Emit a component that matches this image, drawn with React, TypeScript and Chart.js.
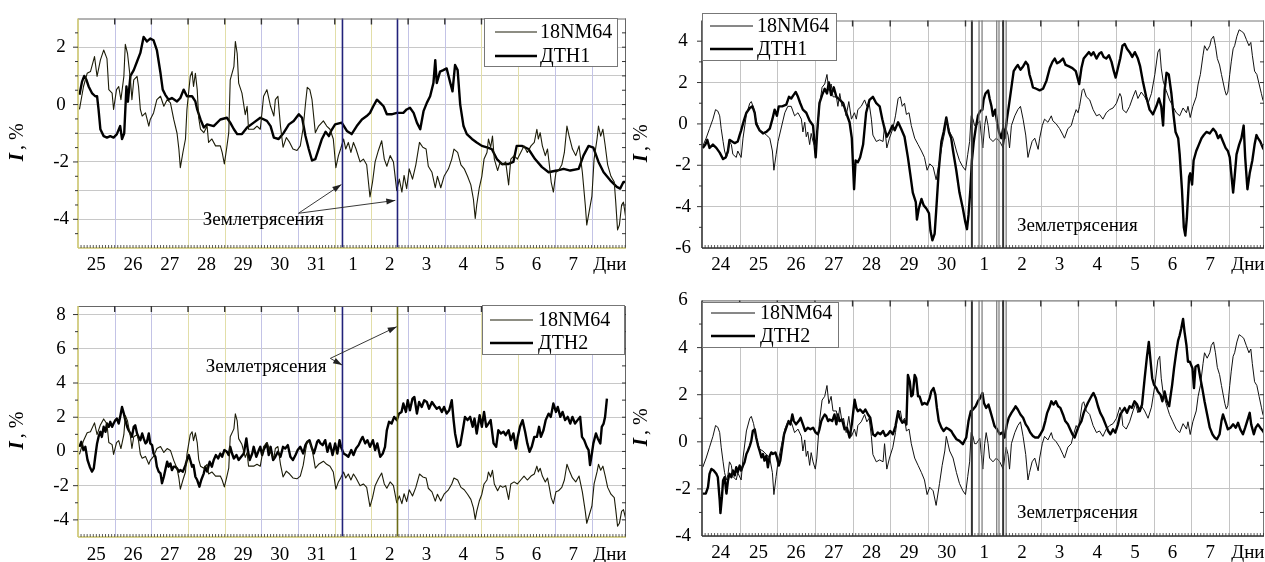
import React, { useEffect, useRef } from 'react';
import { Chart, registerables } from 'chart.js';

Chart.register(...registerables);

type Pt = [number, number];

// day labels under the x axis (x = days since the first midnight)
const octDays = ['25', '26', '27', '28', '29', '30', '31', '1', '2', '3', '4', '5', '6', '7', 'Дни'];
const sepDays = ['24', '25', '26', '27', '28', '29', '30', '1', '2', '3', '4', '5', '6', '7', 'Дни'];

// October, 18NM64 (same curve in both left panels)
const octNm64: Pt[] = [
  [0.04, -0.17], [0.15, 0.63], [0.25, 1.09], [0.34, 1.15], [0.45, 1.67], [0.52, 0.98], [0.61, 1.55], [0.7, 1.9],
  [0.79, 1.6], [0.84, 0.52], [0.93, 0.4], [0.97, -0.17], [1.05, 0.52], [1.11, 0.63], [1.17, 0.17], [1.25, 0.98],
  [1.29, 2.1], [1.35, 1.78], [1.43, 0.86], [1.47, 0.17], [1.52, 0.86], [1.61, 0.98], [1.65, 0.63], [1.7, -0.17],
  [1.75, -0.4], [1.84, -0.29], [1.93, -0.75], [1.97, -0.52], [2.06, -0.29], [2.15, 0.17], [2.25, 0.29], [2.34, -0.06],
  [2.43, 0.17], [2.52, 0.06], [2.61, -0.52], [2.7, -1.0], [2.75, -1.55], [2.79, -2.2], [2.86, -1.67], [2.93, -1.2],
  [2.97, -0.17], [3.06, 0.98], [3.11, 1.15], [3.15, 0.63], [3.2, 1.09], [3.25, 0.52], [3.29, -0.46], [3.34, -0.86],
  [3.43, -0.98], [3.52, -0.75], [3.56, -1.32], [3.65, -1.2], [3.75, -1.44], [3.88, -1.44], [3.93, -1.67], [3.99, -2.07],
  [4.05, -1.55], [4.11, -0.98], [4.15, 0.86], [4.25, 1.32], [4.29, 2.2], [4.34, 1.78], [4.38, 0.75], [4.47, 0.4],
  [4.56, -0.35], [4.61, -0.06], [4.65, -0.86], [4.79, -0.86], [4.88, -0.75], [4.97, -0.86], [5.06, 0.29], [5.15, 0.52],
  [5.25, -0.06], [5.34, -0.4], [5.38, 0.17], [5.45, 0.29], [5.52, -0.75], [5.59, -1.49], [5.68, -1.15], [5.77, -1.32],
  [5.86, -1.55], [5.97, -1.6], [6.06, -1.44], [6.14, -0.8], [6.2, 0.0], [6.25, 0.6], [6.32, 0.52], [6.38, 0.17],
  [6.47, -0.98], [6.56, -0.75], [6.69, -0.57], [6.78, -0.75], [6.87, -0.86], [6.96, -1.2], [7.03, -2.2], [7.1, -1.78],
  [7.16, -1.55], [7.24, -1.2], [7.3, -1.55], [7.37, -1.32], [7.44, -1.67], [7.51, -1.32], [7.58, -1.55], [7.69, -2.0],
  [7.78, -1.9], [7.87, -2.1], [7.96, -3.22], [8.03, -2.7], [8.1, -2.0], [8.19, -1.6], [8.28, -1.26], [8.35, -1.9],
  [8.42, -2.15], [8.51, -1.78], [8.6, -2.0], [8.69, -3.0], [8.76, -2.6], [8.83, -3.05], [8.89, -2.47], [8.96, -2.93],
  [9.03, -2.24], [9.12, -2.6], [9.21, -2.1], [9.31, -1.32], [9.4, -1.49], [9.49, -1.55], [9.55, -2.15], [9.65, -2.36],
  [9.74, -2.9], [9.8, -2.5], [9.89, -2.9], [9.98, -2.5], [10.1, -2.24], [10.19, -1.9], [10.25, -1.55], [10.35, -1.67],
  [10.44, -2.1], [10.53, -2.24], [10.62, -2.5], [10.71, -2.8], [10.78, -3.3], [10.83, -3.97], [10.87, -3.5], [10.94, -2.9],
  [11.01, -2.5], [11.07, -1.9], [11.15, -1.67], [11.19, -1.2], [11.25, -1.49], [11.3, -1.1], [11.35, -1.9], [11.44, -2.3],
  [11.51, -2.0], [11.58, -2.1], [11.66, -2.0], [11.74, -2.8], [11.8, -1.9], [11.89, -1.78], [11.98, -1.9], [12.07, -1.67],
  [12.16, -1.44], [12.25, -1.67], [12.35, -1.44], [12.44, -1.32], [12.51, -0.86], [12.55, -1.2], [12.6, -0.98], [12.66, -1.44],
  [12.74, -1.78], [12.8, -1.55], [12.85, -2.1], [12.9, -2.7], [12.96, -3.05], [13.03, -2.36], [13.1, -2.3], [13.19, -2.1],
  [13.26, -1.67], [13.33, -0.75], [13.39, -1.1], [13.48, -1.55], [13.57, -1.78], [13.66, -1.44], [13.75, -2.36], [13.83, -3.5],
  [13.87, -4.2], [13.94, -3.7], [14.01, -3.2], [14.07, -1.9], [14.15, -1.2], [14.19, -0.75], [14.25, -1.1], [14.31, -0.86],
  [14.37, -1.4], [14.44, -2.1], [14.53, -2.5], [14.62, -2.7], [14.66, -3.4], [14.71, -4.37], [14.76, -4.2], [14.82, -3.5],
  [14.87, -3.4], [14.94, -4.0],
];

// October, ДТН1
const octDtn1: Pt[] = [
  [0.04, 0.34], [0.11, 0.8], [0.17, 1.0], [0.23, 0.86], [0.29, 0.63], [0.38, 0.4], [0.47, 0.29], [0.52, 0.29],
  [0.56, -0.17], [0.61, -0.86], [0.7, -1.1], [0.79, -1.15], [0.88, -1.1], [0.97, -1.15], [1.06, -1.03], [1.15, -0.75],
  [1.2, -1.2], [1.26, -1.0], [1.32, 0.63], [1.36, 0.1], [1.43, 1.0], [1.52, 1.2], [1.61, 1.5], [1.7, 1.8],
  [1.79, 2.36], [1.88, 2.2], [1.97, 2.3], [2.06, 2.24], [2.15, 1.9], [2.25, 1.09], [2.31, 0.52], [2.38, 0.34],
  [2.47, 0.17], [2.56, 0.23], [2.7, 0.11], [2.79, 0.23], [2.88, 0.52], [2.97, 0.29], [3.11, 0.29], [3.2, 0.11],
  [3.25, -0.17], [3.34, -0.52], [3.43, -0.8], [3.52, -0.69], [3.7, -0.75], [3.88, -0.52], [4.06, -0.46], [4.15, -0.63],
  [4.25, -0.86], [4.34, -1.03], [4.47, -1.03], [4.61, -0.8], [4.79, -0.63], [4.97, -0.46], [5.15, -0.57], [5.25, -0.75],
  [5.34, -1.15], [5.47, -1.2], [5.61, -0.98], [5.75, -0.69], [5.88, -0.57], [6.02, -0.34], [6.11, -0.46], [6.2, -1.09],
  [6.29, -1.55], [6.38, -1.95], [6.47, -1.9], [6.56, -1.55], [6.65, -1.2], [6.75, -0.95], [6.84, -1.1], [6.9, -0.92],
  [7.01, -0.69], [7.19, -0.63], [7.33, -0.92], [7.46, -1.03], [7.6, -0.75], [7.74, -0.52], [7.87, -0.4], [7.96, -0.29],
  [8.05, -0.06], [8.15, 0.17], [8.24, 0.06], [8.33, -0.06], [8.42, -0.34], [8.55, -0.34], [8.69, -0.29], [8.87, -0.29],
  [8.96, -0.17], [9.05, -0.11], [9.15, -0.29], [9.24, -0.63], [9.33, -0.86], [9.42, -0.23], [9.51, 0.06], [9.6, 0.29],
  [9.69, 0.75], [9.74, 1.55], [9.78, 0.75], [9.87, 1.15], [9.96, 1.2], [10.05, 1.26], [10.15, 0.75], [10.21, 0.46],
  [10.28, 1.38], [10.35, 1.2], [10.42, 0.0], [10.51, -0.75], [10.6, -1.03], [10.74, -1.2], [10.87, -1.32], [11.01, -1.44],
  [11.15, -1.49], [11.28, -1.55], [11.42, -1.9], [11.55, -2.07], [11.74, -2.07], [11.87, -2.0], [11.96, -1.44], [12.1, -1.44],
  [12.28, -1.55], [12.46, -1.9], [12.65, -2.18], [12.83, -2.36], [13.05, -2.3], [13.24, -2.24], [13.42, -2.3], [13.65, -2.24],
  [13.78, -1.78], [13.92, -1.44], [14.05, -1.5], [14.19, -2.0], [14.33, -2.36], [14.51, -2.64], [14.69, -2.87], [14.78, -2.93],
  [14.87, -2.7], [14.94, -2.7],
];

// October, ДТН2
const octDtn2: Pt[] = [
  [0.04, 0.27], [0.09, 0.56], [0.15, 0.08], [0.2, 0.27], [0.26, -0.5], [0.32, -0.89], [0.38, -1.18], [0.43, -0.99],
  [0.47, -0.31], [0.52, 0.47], [0.56, 0.85], [0.61, 1.15], [0.65, 0.85], [0.7, 1.44], [0.75, 1.15], [0.79, 1.63],
  [0.84, 1.44], [0.88, 1.73], [0.93, 1.44], [0.97, 1.63], [1.02, 1.83], [1.06, 1.92], [1.11, 1.63], [1.15, 2.02],
  [1.2, 2.6], [1.25, 2.21], [1.29, 1.83], [1.34, 1.44], [1.38, 1.24], [1.43, 1.05], [1.47, 0.85], [1.52, 1.44],
  [1.56, 1.53], [1.61, 1.05], [1.65, 0.85], [1.7, 0.66], [1.75, 1.05], [1.79, 0.76], [1.84, 0.47], [1.88, 0.56],
  [1.93, 1.05], [1.97, 0.47], [2.02, 0.37], [2.06, -0.12], [2.11, -0.31], [2.15, -0.89], [2.2, -1.18], [2.25, -1.28],
  [2.29, -1.86], [2.34, -1.48], [2.38, -1.09], [2.43, -0.6], [2.47, -0.89], [2.52, -0.7], [2.56, -1.09], [2.61, -0.89],
  [2.65, -0.89], [2.7, -0.99], [2.75, -1.18], [2.79, -1.09], [2.86, -1.18], [2.93, -0.8], [2.97, -0.5], [3.02, -0.21],
  [3.06, -0.5], [3.11, -0.89], [3.15, -0.8], [3.2, -1.48], [3.25, -1.67], [3.31, -2.06], [3.36, -1.67], [3.43, -1.28],
  [3.47, -0.89], [3.52, -1.18], [3.59, -0.6], [3.65, -0.89], [3.7, -0.5], [3.76, -0.21], [3.82, -0.41], [3.88, -0.12],
  [3.93, -0.31], [3.99, 0.08], [4.06, -0.02], [4.11, -0.21], [4.15, 0.27], [4.2, -0.12], [4.25, -0.41], [4.32, -0.21],
  [4.38, -0.5], [4.45, -0.31], [4.52, -0.12], [4.59, 0.76], [4.63, 0.08], [4.68, -0.5], [4.75, -0.12], [4.79, 0.27],
  [4.86, -0.31], [4.93, 0.08], [4.97, 0.27], [5.02, -0.21], [5.06, 0.08], [5.15, 0.47], [5.2, -0.21], [5.25, 0.27],
  [5.32, -0.5], [5.38, -0.31], [5.45, -0.02], [5.52, -0.31], [5.59, 0.27], [5.65, 0.17], [5.72, 0.37], [5.79, -0.31],
  [5.86, -0.5], [5.93, -0.21], [5.99, 0.08], [6.06, 0.27], [6.14, -0.12], [6.2, 0.37], [6.25, 0.56], [6.31, 0.66],
  [6.38, 0.17], [6.43, -0.12], [6.47, 0.17], [6.52, 0.56], [6.56, 0.66], [6.61, 0.47], [6.67, 0.37], [6.74, 0.66],
  [6.8, -0.02], [6.87, 0.47], [6.94, -0.21], [7.01, 0.47], [7.07, -0.12], [7.13, 0.66], [7.17, 0.27], [7.24, -0.12],
  [7.31, -0.21], [7.37, -0.31], [7.45, 0.08], [7.51, -0.21], [7.58, 0.17], [7.65, 0.37], [7.71, 0.66], [7.76, 0.85],
  [7.83, 0.47], [7.89, 0.66], [7.96, 0.27], [8.04, 0.66], [8.1, 0.08], [8.16, 0.47], [8.24, -0.31], [8.31, -0.12],
  [8.37, 0.27], [8.42, 1.24], [8.48, 1.73], [8.55, 1.63], [8.62, 2.02], [8.69, 1.83], [8.75, 2.21], [8.82, 2.31],
  [8.87, 2.8], [8.94, 2.31], [8.99, 2.99], [9.05, 2.41], [9.12, 3.09], [9.17, 3.18], [9.24, 2.21], [9.3, 2.89],
  [9.37, 2.6], [9.44, 2.99], [9.51, 2.89], [9.57, 2.5], [9.65, 2.89], [9.71, 2.7], [9.78, 2.5], [9.85, 2.6],
  [9.92, 2.31], [9.98, 2.6], [10.05, 2.21], [10.12, 2.41], [10.19, 2.99], [10.24, 1.83], [10.28, 1.05], [10.35, 0.27],
  [10.42, 0.37], [10.49, 1.24], [10.55, 2.02], [10.62, 1.83], [10.69, 2.02], [10.76, 1.44], [10.81, 1.92], [10.87, 1.05],
  [10.95, 2.12], [11.01, 1.44], [11.07, 2.31], [11.13, 1.44], [11.19, 1.63], [11.25, 1.83], [11.33, 0.47], [11.4, 0.27],
  [11.46, 1.24], [11.53, 1.05], [11.6, 1.15], [11.66, 0.95], [11.74, 1.24], [11.8, 0.66], [11.87, 1.05], [11.94, 0.17],
  [11.99, 0.85], [12.05, 1.44], [12.12, 1.83], [12.19, 1.15], [12.25, 0.47], [12.31, -0.02], [12.37, 0.27], [12.44, 0.85],
  [12.51, 0.85], [12.57, 1.44], [12.62, 0.85], [12.69, 1.24], [12.75, 1.83], [12.83, 2.21], [12.89, 2.02], [12.96, 2.8],
  [13.03, 2.31], [13.08, 2.6], [13.15, 2.02], [13.21, 2.31], [13.28, 1.83], [13.35, 2.02], [13.42, 1.63], [13.48, 2.02],
  [13.55, 1.63], [13.62, 1.83], [13.69, 2.02], [13.74, 0.85], [13.8, 0.66], [13.87, 0.27], [13.92, 0.08], [13.96, -0.8],
  [14.01, -0.12], [14.05, 0.47], [14.12, 1.05], [14.17, 0.76], [14.24, 0.47], [14.28, 1.44], [14.33, 1.63], [14.37, 2.02],
  [14.42, 3.09],
];

// September, 18NM64 (same curve in both right panels)
const sepNm64: Pt[] = [
  [0.02, -1.08], [0.11, -0.69], [0.2, -0.23], [0.29, 0.23], [0.36, 0.69], [0.42, 0.62], [0.47, 0.39], [0.51, -0.23],
  [0.56, -0.85], [0.6, -1.31], [0.65, -1.62], [0.69, -1.39], [0.73, -0.85], [0.78, -1.0], [0.82, -1.47], [0.91, -1.62],
  [0.95, -1.31], [1.04, -1.62], [1.09, -0.69], [1.18, 0.46], [1.27, 1.0], [1.31, 1.08], [1.37, 0.77], [1.44, 0.15],
  [1.53, -0.31], [1.62, -0.39], [1.71, -0.54], [1.8, -0.69], [1.87, -1.31], [1.91, -2.24], [1.97, -1.47], [2.02, -0.85],
  [2.11, -0.15], [2.2, 0.54], [2.28, 0.85], [2.37, 0.85], [2.46, 0.39], [2.55, 0.54], [2.64, 0.23], [2.68, -0.39],
  [2.73, 0.08], [2.77, -0.62], [2.81, -0.39], [2.86, -1.0], [2.9, -0.46], [2.95, -0.85], [3.01, -1.16], [3.05, -0.69],
  [3.12, 0.85], [3.19, 1.77], [3.26, 1.93], [3.32, 2.39], [3.37, 1.62], [3.43, 1.93], [3.48, 1.31], [3.57, 1.31],
  [3.61, 0.85], [3.66, 1.47], [3.72, 0.85], [3.76, 1.0], [3.83, 0.39], [3.9, 1.08], [3.97, 0.23], [4.05, 0.54],
  [4.1, 0.23], [4.14, 0.69], [4.23, 0.85], [4.32, 1.16], [4.38, 0.85], [4.44, 1.0], [4.5, 0.23], [4.54, -0.54],
  [4.63, -0.85], [4.72, -0.77], [4.81, -0.85], [4.85, -0.08], [4.91, -1.16], [4.98, -0.69], [5.07, -0.23], [5.14, 0.39],
  [5.21, 1.23], [5.27, 1.31], [5.32, 0.85], [5.38, 1.0], [5.43, 0.46], [5.5, 0.54], [5.56, -0.08], [5.65, -0.69],
  [5.74, -1.0], [5.83, -1.31], [5.91, -1.62], [5.98, -2.24], [6.05, -1.93], [6.14, -2.08], [6.22, -2.7], [6.31, -1.77],
  [6.38, -1.0], [6.45, -0.39], [6.49, 0.23], [6.58, -0.39], [6.67, -0.69], [6.76, -1.31], [6.84, -1.77], [6.93, -2.08],
  [7.0, -2.24], [7.06, -1.47], [7.11, -0.85], [7.15, 0.39], [7.2, 0.23], [7.24, -0.08], [7.29, -0.08], [7.38, 0.15],
  [7.42, -0.54], [7.46, -1.16], [7.51, -0.08], [7.55, 0.39], [7.6, -0.08], [7.64, -0.69], [7.73, -0.85], [7.82, -0.69],
  [7.91, -0.85], [8.0, -1.16], [8.04, -0.69], [8.08, -0.23], [8.13, -0.54], [8.17, -1.16], [8.22, -0.08], [8.31, 0.39],
  [8.39, 0.69], [8.46, 0.85], [8.53, 0.23], [8.6, -0.54], [8.66, -1.62], [8.7, -1.31], [8.77, -0.85], [8.84, -0.69],
  [8.93, -1.23], [8.97, -0.69], [9.04, -0.08], [9.1, 0.23], [9.19, 0.08], [9.28, 0.39], [9.32, 0.15], [9.41, 0.0],
  [9.5, -0.23], [9.59, -0.54], [9.63, -0.69], [9.72, -0.23], [9.81, -0.08], [9.87, 0.31], [9.94, 0.69], [9.99, 0.54],
  [10.03, 0.85], [10.1, 1.62], [10.14, 1.7], [10.21, 1.31], [10.3, 1.16], [10.39, 0.69], [10.48, 0.39], [10.56, 0.46],
  [10.65, 0.23], [10.74, 0.54], [10.83, 0.69], [10.92, 0.77], [11.01, 1.0], [11.1, 1.47], [11.14, 1.31], [11.18, 0.69],
  [11.27, 0.54], [11.36, 0.85], [11.45, 1.31], [11.52, 1.62], [11.58, 1.23], [11.67, 1.54], [11.76, 1.31], [11.85, 1.0],
  [11.94, 1.47], [12.03, 2.39], [12.11, 3.47], [12.16, 3.63], [12.2, 2.7], [12.25, 2.08], [12.33, 1.62], [12.42, 1.16],
  [12.51, 0.85], [12.6, 0.54], [12.69, 0.39], [12.78, 0.77], [12.87, 0.54], [12.91, 0.85], [12.97, 0.31], [13.04, 0.85],
  [13.13, 1.31], [13.18, 1.93], [13.24, 2.39], [13.31, 3.32], [13.35, 3.78], [13.42, 3.55], [13.49, 3.78], [13.53, 4.09],
  [13.59, 4.24], [13.64, 3.78], [13.69, 3.16], [13.75, 2.85], [13.8, 2.39], [13.89, 1.62], [13.93, 1.39], [13.97, 1.54],
  [14.02, 2.39], [14.06, 3.0], [14.11, 3.63], [14.15, 3.78], [14.21, 4.24], [14.27, 4.55], [14.33, 4.48], [14.39, 4.4],
  [14.46, 4.09], [14.53, 3.78], [14.58, 3.94], [14.62, 3.32], [14.68, 2.55], [14.74, 2.39], [14.8, 1.93], [14.86, 1.47],
  [14.9, 1.16], [14.95, 1.0],
];

// September, ДТН1
const sepDtn1: Pt[] = [
  [0.02, -1.16], [0.09, -1.0], [0.14, -0.77], [0.2, -1.16], [0.29, -1.0], [0.38, -1.16], [0.47, -1.39], [0.56, -1.7],
  [0.63, -1.62], [0.69, -1.31], [0.73, -0.77], [0.8, -0.85], [0.87, -0.93], [0.95, -0.85], [1.0, -0.54], [1.04, -0.31],
  [1.11, 0.15], [1.18, 0.54], [1.27, 0.77], [1.34, 0.85], [1.4, 0.54], [1.44, 0.0], [1.53, -0.31], [1.62, -0.46],
  [1.71, -0.39], [1.8, -0.23], [1.87, 0.23], [1.93, 0.69], [1.99, 0.39], [2.04, 0.85], [2.13, 0.85], [2.24, 0.93],
  [2.31, 1.31], [2.37, 1.23], [2.43, 1.39], [2.49, 1.54], [2.55, 1.31], [2.61, 1.0], [2.68, 0.69], [2.77, 0.54],
  [2.86, 0.15], [2.95, -0.08], [3.02, -1.62], [3.06, -0.39], [3.12, 1.0], [3.19, 1.39], [3.26, 1.7], [3.32, 1.47],
  [3.37, 2.0], [3.43, 1.39], [3.5, 1.77], [3.57, 1.31], [3.66, 1.16], [3.75, 1.0], [3.83, 0.54], [3.92, 0.08],
  [3.98, -0.69], [4.04, -3.16], [4.08, -1.77], [4.14, -1.85], [4.2, -1.62], [4.28, -1.0], [4.36, 0.54], [4.45, 1.16],
  [4.54, 1.31], [4.63, 1.0], [4.72, 0.85], [4.79, 0.23], [4.85, -0.23], [4.91, -0.62], [4.98, -0.39], [5.06, -0.08],
  [5.12, -0.31], [5.21, 0.08], [5.29, -0.23], [5.38, -0.62], [5.47, -1.62], [5.53, -2.39], [5.6, -3.32], [5.68, -3.78],
  [5.71, -4.63], [5.76, -4.09], [5.83, -3.63], [5.89, -3.94], [5.96, -4.09], [6.03, -4.32], [6.07, -5.17], [6.12, -5.63],
  [6.18, -5.32], [6.22, -4.24], [6.29, -2.24], [6.36, -0.85], [6.42, -0.39], [6.49, 0.31], [6.56, -0.39], [6.62, -0.69],
  [6.67, -1.31], [6.755, -2.24], [6.84, -3.32], [6.93, -4.09], [6.99, -4.7], [7.04, -5.09], [7.08, -4.4], [7.13, -3.16],
  [7.17, -1.77], [7.22, -0.85], [7.27, -0.23], [7.33, 0.39], [7.39, 0.62], [7.45, 0.69], [7.48, 1.16], [7.53, 1.47],
  [7.6, 1.62], [7.64, 1.23], [7.69, 0.85], [7.73, 0.39], [7.79, 0.69], [7.84, 0.08], [7.89, -0.39], [7.95, -0.69],
  [8.0, -0.23], [8.04, -0.69], [8.1, 0.23], [8.15, 0.85], [8.22, 1.77], [8.28, 2.55], [8.33, 2.7], [8.39, 2.85],
  [8.46, 2.62], [8.53, 2.78], [8.6, 3.0], [8.66, 2.85], [8.7, 2.39], [8.75, 2.08], [8.79, 1.77], [8.88, 1.7],
  [8.97, 1.62], [9.06, 1.7], [9.15, 2.08], [9.24, 2.7], [9.31, 3.0], [9.37, 3.16], [9.43, 2.93], [9.5, 3.0],
  [9.59, 3.16], [9.66, 2.85], [9.75, 2.78], [9.84, 2.7], [9.93, 2.55], [10.02, 1.93], [10.08, 2.7], [10.14, 3.16],
  [10.21, 3.32], [10.28, 3.47], [10.34, 3.32], [10.4, 3.47], [10.48, 3.16], [10.55, 3.39], [10.61, 3.47], [10.67, 3.24],
  [10.74, 3.16], [10.81, 3.32], [10.88, 3.0], [10.94, 2.55], [10.99, 2.24], [11.05, 2.7], [11.11, 3.16], [11.17, 3.78],
  [11.23, 3.86], [11.29, 3.63], [11.36, 3.47], [11.43, 3.24], [11.5, 3.47], [11.58, 3.16], [11.64, 2.78], [11.71, 2.08],
  [11.8, 1.31], [11.89, 0.69], [11.98, 0.46], [12.07, 0.85], [12.14, 1.23], [12.2, 0.85], [12.25, -0.08], [12.29, 1.62],
  [12.34, 2.47], [12.4, 2.39], [12.47, 1.47], [12.53, 0.39], [12.58, -0.39], [12.65, -0.69], [12.69, -1.47], [12.75, -3.16],
  [12.8, -5.0], [12.84, -5.4], [12.88, -4.56], [12.94, -2.55], [12.97, -2.39], [13.02, -2.93], [13.06, -1.77], [13.13, -1.31],
  [13.2, -1.0], [13.27, -0.69], [13.33, -0.54], [13.4, -0.39], [13.49, -0.46], [13.58, -0.23], [13.65, -0.39], [13.71, -0.69],
  [13.77, -0.54], [13.84, -0.85], [13.91, -1.16], [13.97, -1.31], [14.02, -1.62], [14.06, -2.39], [14.11, -3.32], [14.15, -2.55],
  [14.2, -1.47], [14.27, -1.0], [14.33, -0.69], [14.39, -0.08], [14.43, -1.62], [14.49, -3.16], [14.55, -2.39], [14.62, -1.77],
  [14.68, -1.0], [14.73, -0.54], [14.77, -0.69], [14.83, -0.85], [14.9, -1.16], [14.95, -1.31],
];

// September, ДТН2
const sepDtn2: Pt[] = [
  [0.02, -2.2], [0.1, -2.2], [0.16, -1.92], [0.2, -1.36], [0.25, -1.15], [0.31, -1.22], [0.38, -1.36], [0.42, -1.5],
  [0.47, -2.48], [0.49, -3.03], [0.53, -2.34], [0.56, -1.64], [0.6, -1.5], [0.65, -2.2], [0.69, -1.64], [0.73, -1.36],
  [0.78, -1.5], [0.82, -1.22], [0.87, -1.43], [0.91, -1.08], [0.95, -1.29], [1.0, -1.01], [1.04, -1.22], [1.09, -1.01],
  [1.13, -0.87], [1.18, -0.52], [1.22, -0.38], [1.27, -0.17], [1.31, 0.04], [1.35, 0.46], [1.4, 0.53], [1.44, 0.18],
  [1.49, -0.17], [1.53, -0.38], [1.58, -0.66], [1.62, -0.52], [1.66, -0.8], [1.71, -0.59], [1.75, -1.08], [1.8, -0.59],
  [1.84, -0.45], [1.88, -0.52], [1.95, -0.45], [1.99, -0.66], [2.04, -1.01], [2.08, -0.8], [2.13, -0.24], [2.18, 0.32],
  [2.24, 0.6], [2.3, 0.88], [2.35, 0.74], [2.4, 1.16], [2.44, 0.88], [2.5, 0.74], [2.57, 0.88], [2.62, 1.02],
  [2.68, 0.74], [2.74, 0.46], [2.81, 0.6], [2.88, 0.53], [2.95, 0.6], [3.02, 0.39], [3.08, 0.32], [3.12, 0.53],
  [3.17, 0.88], [3.21, 1.02], [3.26, 1.16], [3.3, 1.09], [3.35, 0.88], [3.39, 0.95], [3.46, 0.88], [3.52, 1.16],
  [3.57, 0.74], [3.61, 1.16], [3.66, 0.88], [3.72, 0.95], [3.79, 0.53], [3.85, 0.6], [3.92, 0.18], [3.98, 0.74],
  [4.055, 1.79], [4.1, 1.44], [4.14, 1.3], [4.2, 1.37], [4.28, 1.23], [4.34, 1.37], [4.41, 1.16], [4.47, 1.02],
  [4.54, 0.32], [4.6, 0.25], [4.67, 0.39], [4.74, 0.32], [4.81, 0.46], [4.87, 0.25], [4.94, 0.32], [5.0, 0.46],
  [5.07, 0.32], [5.14, 0.67], [5.21, 1.3], [5.25, 1.02], [5.32, 0.81], [5.38, 0.88], [5.43, 0.74], [5.47, 2.84],
  [5.52, 2.56], [5.56, 1.93], [5.6, 2.0], [5.65, 2.84], [5.69, 2.7], [5.74, 1.93], [5.78, 1.93], [5.85, 1.58],
  [5.91, 1.65], [5.98, 1.58], [6.05, 1.86], [6.09, 2.14], [6.15, 2.28], [6.2, 2.0], [6.24, 1.44], [6.29, 0.88],
  [6.36, 0.6], [6.42, 0.46], [6.49, 0.6], [6.56, 0.53], [6.62, 0.46], [6.67, 0.32], [6.76, 0.11], [6.84, 0.04],
  [6.93, -0.1], [7.02, 0.18], [7.08, 0.88], [7.14, 1.3], [7.2, 1.37], [7.27, 1.51], [7.33, 1.72], [7.39, 1.86],
  [7.45, 2.07], [7.49, 1.65], [7.55, 1.44], [7.61, 1.58], [7.66, 1.3], [7.71, 1.02], [7.77, 0.67], [7.84, 0.53],
  [7.91, 0.32], [7.97, 0.39], [8.04, 0.18], [8.1, 0.74], [8.15, 1.02], [8.22, 1.23], [8.28, 1.37], [8.33, 1.51],
  [8.39, 1.37], [8.46, 1.16], [8.53, 1.02], [8.6, 0.74], [8.66, 0.6], [8.72, 0.39], [8.79, 0.25], [8.85, 0.18],
  [8.93, 0.18], [8.99, 0.32], [9.06, 0.53], [9.12, 0.88], [9.17, 1.23], [9.24, 1.51], [9.28, 1.72], [9.34, 1.58],
  [9.4, 1.72], [9.46, 1.51], [9.52, 1.44], [9.59, 1.16], [9.65, 0.88], [9.72, 0.74], [9.78, 0.53], [9.84, 0.32],
  [9.9, 0.18], [9.96, 0.46], [10.01, 0.67], [10.08, 0.88], [10.14, 1.23], [10.19, 1.44], [10.25, 1.65], [10.32, 1.86],
  [10.37, 2.0], [10.4, 2.07], [10.46, 1.86], [10.52, 1.51], [10.58, 1.23], [10.65, 1.02], [10.72, 0.74], [10.79, 0.46],
  [10.85, 0.32], [10.92, 0.53], [10.98, 0.39], [11.05, 0.74], [11.11, 1.16], [11.17, 1.3], [11.23, 1.44], [11.29, 1.23],
  [11.36, 1.51], [11.42, 1.44], [11.49, 1.72], [11.56, 1.58], [11.63, 1.3], [11.69, 1.58], [11.76, 2.7], [11.82, 3.61],
  [11.87, 4.24], [11.91, 3.54], [11.96, 2.7], [12.01, 2.42], [12.07, 2.28], [12.11, 2.14], [12.18, 2.0], [12.23, 1.72],
  [12.29, 2.14], [12.35, 1.72], [12.41, 1.51], [12.44, 1.86], [12.49, 2.42], [12.54, 3.12], [12.6, 3.82], [12.65, 4.31],
  [12.69, 4.52], [12.73, 4.8], [12.78, 5.22], [12.82, 4.66], [12.87, 4.1], [12.91, 3.4], [12.96, 3.4], [13.03, 3.12],
  [13.07, 2.28], [13.11, 3.19], [13.18, 3.26], [13.24, 2.7], [13.29, 2.28], [13.35, 1.72], [13.42, 1.16], [13.49, 0.6],
  [13.56, 0.32], [13.62, 0.18], [13.68, 0.11], [13.75, 0.32], [13.8, 0.88], [13.84, 1.16], [13.9, 0.88], [13.97, 0.53],
  [14.04, 0.6], [14.11, 0.74], [14.18, 0.6], [14.24, 0.81], [14.3, 0.53], [14.37, 0.32], [14.43, 0.6], [14.51, 1.02],
  [14.55, 1.23], [14.59, 0.74], [14.66, 0.32], [14.71, 0.6], [14.77, 0.74], [14.83, 0.6], [14.9, 0.46], [14.95, 0.32],
];

// earthquake times, in the same day units
const octQuakes = [7.21, 8.71];
const sepQuakes = [7.17, 7.36, 7.44, 7.83, 7.89, 8.0, 8.08];

const SERIF = '"Liberation Serif", "Times New Roman", serif';

type Series = { label: string; data: Pt[]; width: number; color: string };
type Panel = {
  left: number; top: number; width: number; height: number;
  padTop: number; padRight: number; yWidth: number; xHeight: number; xPad: number; yPad: number;
  xMax: number; days: string[];
  yMin: number; yMax: number; yGrid: number[]; yLabels: number[]; yMinor: number[];
  series: Series[];
  legend: { x: number; y: number; w: number; h: number; rows: number[]; line: [number, number]; text: number };
  quakes: { k: number; color: string; width: number }[];
  vGrid: (d: number) => string; hGrid: string; axisColor: string; frameColor: string;
  note: { at: Pt; arrows: [Pt, Pt][] };
};

const octGrid = (d: number) => (d % 4 === 1 || d % 4 === 2 ? '#c3c3e6' : '#e2dea8');
const sepGrid = () => '#c4c4c4';

const panels: Panel[] = [
  {
    left: 0, top: 0, width: 632, height: 280, padTop: 17, padRight: 6, yWidth: 78, xHeight: 32, xPad: 0, yPad: 9,
    xMax: 14.94, days: octDays, yMin: -5, yMax: 3,
    yGrid: [-4, -3, -2, -1, 0, 1, 2], yLabels: [-4, -2, 0, 2], yMinor: [-4.5, -4, -3.5, -3, -2.5, -2, -1.5, -1, -0.5, 0, 0.5, 1, 1.5, 2, 2.5],
    series: [
      { label: '18NM64', data: octNm64, width: 1.1, color: '#1c1c08' },
      { label: 'ДТН1', data: octDtn1, width: 2.4, color: '#000' },
    ],
    legend: { x: 484, y: 18, w: 133, h: 48, rows: [32, 56], line: [495, 537], text: 540 },
    quakes: [{ k: octQuakes[0], color: '#22227a', width: 1.6 }, { k: octQuakes[1], color: '#22227a', width: 1.6 }],
    vGrid: octGrid, hGrid: '#c8c8c8', axisColor: '#cbc46c', frameColor: '#666',
    note: { at: [5.05, -4.03], arrows: [[[6.01, -3.79], [7.18, -2.79]], [[6.01, -3.79], [8.65, -3.34]]] },
  },
  {
    left: 630, top: 0, width: 635, height: 280, padTop: 10, padRight: 1, yWidth: 72, xHeight: 32, xPad: 0, yPad: 11,
    xMax: 14.93, days: sepDays, yMin: -6, yMax: 5,
    yGrid: [-6, -4, -2, 0, 2, 4], yLabels: [-6, -4, -2, 0, 2, 4], yMinor: [-5, -4, -3, -2, -1, 0, 1, 2, 3, 4],
    series: [
      { label: '18NM64', data: sepNm64, width: 1, color: '#111' },
      { label: 'ДТН1', data: sepDtn1, width: 2.4, color: '#000' },
    ],
    legend: { x: 72, y: 13, w: 134, h: 47, rows: [26, 49], line: [80, 123], text: 127 },
    quakes: sepQuakes.map((k, i) => ({ k, color: i === 0 || i === 5 ? '#333' : '#777', width: i === 0 || i === 5 ? 2 : 1.2 })),
    vGrid: sepGrid, hGrid: '#c4c4c4', axisColor: '#333', frameColor: '#777',
    note: { at: [9.97, -4.94], arrows: [] },
  },
  {
    left: 0, top: 280, width: 632, height: 282, padTop: 26, padRight: 6, yWidth: 78, xHeight: 25, xPad: 1, yPad: 9,
    xMax: 14.94, days: octDays, yMin: -5, yMax: 8.5,
    yGrid: [-4, -2, 0, 2, 4, 6, 8], yLabels: [-4, -2, 0, 2, 4, 6, 8], yMinor: [-4, -3, -2, -1, 0, 1, 2, 3, 4, 5, 6, 7, 8],
    series: [
      { label: '18NM64', data: octNm64, width: 1.1, color: '#1c1c08' },
      { label: 'ДТН2', data: octDtn2, width: 2.4, color: '#000' },
    ],
    legend: { x: 482, y: 25, w: 142, h: 49, rows: [40, 63], line: [490, 533], text: 538 },
    quakes: [{ k: octQuakes[0], color: '#22227a', width: 1.6 }, { k: octQuakes[1], color: '#6c6c18', width: 1.6 }],
    vGrid: octGrid, hGrid: '#c8c8c8', axisColor: '#cbc46c', frameColor: '#666',
    note: { at: [5.13, 4.93], arrows: [[[6.88, 5.44], [7.2, 5.05]], [[6.88, 5.44], [8.69, 7.29]]] },
  },
  {
    left: 630, top: 280, width: 635, height: 282, padTop: 18, padRight: 1, yWidth: 72, xHeight: 26, xPad: 0, yPad: 11,
    xMax: 14.93, days: sepDays, yMin: -4, yMax: 6,
    yGrid: [-4, -2, 0, 2, 4, 6], yLabels: [-4, -2, 0, 2, 4, 6], yMinor: [-3, -2, -1, 0, 1, 2, 3, 4, 5],
    series: [
      { label: '18NM64', data: sepNm64, width: 1, color: '#111' },
      { label: 'ДТН2', data: sepDtn2, width: 2.4, color: '#000' },
    ],
    legend: { x: 72, y: 22, w: 136, h: 45, rows: [33, 56], line: [81, 125], text: 130 },
    quakes: sepQuakes.map((k, i) => ({ k, color: i === 0 || i === 5 ? '#333' : '#777', width: i === 0 || i === 5 ? 2 : 1.2 })),
    vGrid: sepGrid, hGrid: '#c4c4c4', axisColor: '#333', frameColor: '#777',
    note: { at: [9.97, -3.03], arrows: [] },
  },
];

const decor = (p: Panel) => ({
  id: 'decor',
  beforeDatasetsDraw(chart: any) {
    const { ctx, chartArea: a, scales: { x } } = chart;
    ctx.save();
    ctx.lineWidth = 1;
    for (let d = 1; d < p.xMax; d++) {
      const px = Math.round(x.getPixelForValue(d)) + 0.5;
      ctx.strokeStyle = p.vGrid(d);
      ctx.beginPath();
      ctx.moveTo(px, a.top);
      ctx.lineTo(px, a.bottom);
      ctx.stroke();
    }
    ctx.restore();
  },
  afterDatasetsDraw(chart: any) {
    const { ctx, chartArea: a, scales: { x } } = chart;
    ctx.save();
    for (const q of p.quakes) {
      const px = x.getPixelForValue(q.k);
      ctx.strokeStyle = q.color;
      ctx.lineWidth = q.width;
      ctx.beginPath();
      ctx.moveTo(px, a.top);
      ctx.lineTo(px, a.bottom);
      ctx.stroke();
    }
    ctx.restore();
  },
  afterDraw(chart: any) {
    const { ctx, chartArea: a, scales: { x, y } } = chart;
    const line = (x1: number, y1: number, x2: number, y2: number) => {
      ctx.beginPath();
      ctx.moveTo(x1, y1);
      ctx.lineTo(x2, y2);
      ctx.stroke();
    };
    ctx.save();

    // frame
    ctx.strokeStyle = p.frameColor;
    ctx.lineWidth = 1;
    line(a.left, a.top + 0.5, a.right, a.top + 0.5);
    line(a.right - 0.5, a.top, a.right - 0.5, a.bottom);
    ctx.strokeStyle = p.axisColor;
    ctx.lineWidth = 1.6;
    line(a.left, a.top, a.left, a.bottom);
    line(a.left, a.bottom, a.right, a.bottom);

    // ticks
    ctx.strokeStyle = '#333';
    ctx.lineWidth = 0.8;
    for (let i = 1; i < p.xMax * 12; i++) {
      const px = x.getPixelForValue(i / 12);
      line(px, a.bottom, px, a.bottom - 3);
    }
    ctx.lineWidth = 1.4;
    for (let d = 1; d < p.xMax; d++) {
      const px = x.getPixelForValue(d);
      line(px, a.top, px, a.top + 6);
    }
    ctx.lineWidth = 1;
    for (const v of p.yMinor) {
      const py = y.getPixelForValue(v);
      const len = p.yLabels.includes(v) ? 5 : 3;
      line(a.left - len, py, a.left, py);
      line(a.right - 4, py, a.right, py);
    }

    // axis title "I , %"
    const cy = (a.top + a.bottom) / 2 + 9;
    ctx.translate(a.left - 60, cy);
    ctx.rotate(-Math.PI / 2);
    ctx.fillStyle = '#000';
    ctx.textBaseline = 'middle';
    ctx.textAlign = 'left';
    const iFont = `italic bold 21px ${SERIF}`;
    const rFont = `20px ${SERIF}`;
    ctx.font = iFont;
    const wI = ctx.measureText('I').width;
    ctx.font = rFont;
    const wR = ctx.measureText(', %').width;
    const x0 = -(wI + 3 + wR) / 2;
    ctx.font = iFont;
    ctx.fillText('I', x0, 0);
    ctx.font = rFont;
    ctx.fillText(', %', x0 + wI + 3, 0);
    ctx.restore();
    ctx.save();

    // legend box
    const L = p.legend;
    ctx.fillStyle = '#fff';
    ctx.fillRect(L.x, L.y, L.w, L.h);
    ctx.strokeStyle = '#777';
    ctx.lineWidth = 1;
    ctx.strokeRect(L.x + 0.5, L.y + 0.5, L.w, L.h);
    ctx.font = `20px ${SERIF}`;
    ctx.textBaseline = 'middle';
    ctx.textAlign = 'left';
    p.series.forEach((s, i) => {
      ctx.strokeStyle = s.color;
      ctx.lineWidth = s.width;
      line(L.line[0], L.rows[i], L.line[1], L.rows[i]);
      ctx.fillStyle = '#000';
      ctx.fillText(s.label, L.text, L.rows[i] + 1);
    });

    // earthquake note
    ctx.font = `19px ${SERIF}`;
    ctx.textAlign = 'center';
    ctx.fillStyle = '#000';
    ctx.fillText('Землетрясения', x.getPixelForValue(p.note.at[0]), y.getPixelForValue(p.note.at[1]));
    ctx.strokeStyle = '#222';
    ctx.fillStyle = '#222';
    ctx.lineWidth = 0.9;
    for (const [from, to] of p.note.arrows) {
      const x1 = x.getPixelForValue(from[0]);
      const y1 = y.getPixelForValue(from[1]);
      const x2 = x.getPixelForValue(to[0]);
      const y2 = y.getPixelForValue(to[1]);
      line(x1, y1, x2, y2);
      const ang = Math.atan2(y2 - y1, x2 - x1);
      ctx.beginPath();
      ctx.moveTo(x2, y2);
      ctx.lineTo(x2 - 9 * Math.cos(ang) + 3 * Math.sin(ang), y2 - 9 * Math.sin(ang) - 3 * Math.cos(ang));
      ctx.lineTo(x2 - 9 * Math.cos(ang) - 3 * Math.sin(ang), y2 - 9 * Math.sin(ang) + 3 * Math.cos(ang));
      ctx.closePath();
      ctx.fill();
    }
    ctx.restore();
  },
});

const PanelChart = ({ p }: { p: Panel }) => {
  const canvasRef = useRef<HTMLCanvasElement>(null);

  useEffect(() => {
    const ctx = canvasRef.current!.getContext('2d')!;
    const tickFont = { family: SERIF, size: 19, lineHeight: 1 };

    const chart = new Chart(ctx, {
      type: 'line',
      data: {
        datasets: p.series.map((s) => ({
          label: s.label,
          data: s.data.map(([x, y]) => ({ x, y })),
          borderColor: s.color,
          borderWidth: s.width,
          borderJoinStyle: 'round' as const,
          pointRadius: 0,
          tension: 0,
          fill: false,
        })),
      },
      options: {
        responsive: false,
        animation: false,
        layout: { padding: { top: p.padTop, right: p.padRight, left: 0, bottom: 0 } },
        plugins: { legend: { display: false }, tooltip: { enabled: false } },
        scales: {
          x: {
            type: 'linear',
            min: 0,
            max: p.xMax,
            afterFit: (scale: any) => {
              scale.height = p.xHeight;
            },
            afterBuildTicks: (scale: any) => {
              scale.ticks = p.days.map((_, i) => ({ value: i + 0.5 }));
            },
            grid: { display: false },
            border: { display: false },
            ticks: {
              autoSkip: false,
              maxRotation: 0,
              padding: p.xPad,
              color: '#000',
              font: tickFont,
              callback: (_v: any, i: number) => p.days[i],
            },
          },
          y: {
            type: 'linear',
            min: p.yMin,
            max: p.yMax,
            afterFit: (scale: any) => {
              scale.width = p.yWidth;
            },
            afterBuildTicks: (scale: any) => {
              scale.ticks = p.yGrid.map((v) => ({ value: v }));
            },
            grid: { color: p.hGrid, drawTicks: false },
            border: { display: false },
            ticks: {
              padding: p.yPad,
              crossAlign: 'center',
              color: '#000',
              font: tickFont,
              callback: (v: any) => (p.yLabels.includes(v) ? String(v) : ''),
            },
          },
        },
      },
      plugins: [decor(p)],
    } as any);

    return () => chart.destroy();
  }, [p]);

  return (
    <canvas
      ref={canvasRef}
      width={p.width}
      height={p.height}
      style={{ position: 'absolute', left: p.left, top: p.top }}
    />
  );
};

export default function App() {
  useEffect(() => {
    document.body.style.margin = '0';
  }, []);

  return (
    <div style={{ position: 'relative', width: 1265, height: 562, background: '#fff', overflow: 'hidden' }}>
      {panels.map((p, i) => (
        <PanelChart key={i} p={p} />
      ))}
    </div>
  );
}
